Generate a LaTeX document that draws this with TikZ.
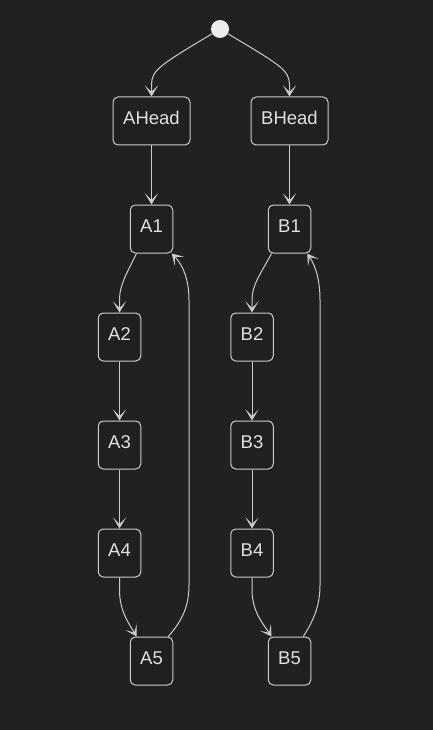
\documentclass[tikz,border=0pt]{standalone}
\usepackage{fontspec}
\setmainfont{Liberation Sans}
\usetikzlibrary{positioning,arrows.meta}
\definecolor{bg}{HTML}{212121}
\definecolor{boxfill}{HTML}{1F2020}
\definecolor{edge}{HTML}{CCCCCC}
\definecolor{txt}{HTML}{E0E0E0}
\definecolor{dot}{HTML}{ECECEC}

\begin{document}
\begin{tikzpicture}[x=1pt,y=-1pt,font=\fontsize{18.5}{20}\selectfont,
  state/.style={draw=edge,fill=boxfill,text=txt,rounded corners=5pt,line width=1pt,
    minimum width=42.5pt,minimum height=48pt,inner sep=0pt,text depth=5.5pt},
  arr/.style={edge,line width=1pt,-{Stealth[length=11pt,width=13pt,inset=6.5pt]}}]
  \fill[bg] (0,0) rectangle (433,730);
  \node[circle,fill=dot,inner sep=0pt,minimum size=18pt] (start) at (220,29) {};
  \node[state,minimum width=77pt] (ahead) at (151.5,121) {AHead};
  \node[state,minimum width=77pt] (bhead) at (289.5,121) {BHead};
  \node[state] (a1) at (151.5,229) {A1};
  \node[state] (a2) at (119.5,337) {A2};
  \node[state] (a3) at (119.5,445) {A3};
  \node[state] (a4) at (119.5,553) {A4};
  \node[state] (a5) at (151.5,661) {A5};
  \node[state] (b1) at (289.5,229) {B1};
  \node[state] (b2) at (252,337) {B2};
  \node[state] (b3) at (252,445) {B3};
  \node[state] (b4) at (252,553) {B4};
  \node[state] (b5) at (289.5,661) {B5};
  \draw[arr] (start) .. controls (160,65) and (151.5,70) .. (151.5,85) -- (ahead);
  \draw[arr] (start) .. controls (280,65) and (289.5,70) .. (289.5,85) -- (bhead);
  \draw[arr] (ahead) -- (a1);
  \draw[arr] (bhead) -- (b1);
  \draw[arr] ([xshift=-15pt]a1.south) .. controls (126,275) and (119.5,285) .. (119.5,300) -- (a2);
  \draw[arr] (a2) -- (a3);
  \draw[arr] (a3) -- (a4);
  \draw[arr] (a4) -- (119.5,590) .. controls (119.5,612) and (130,625) .. ([xshift=-15pt]a5.north);
  \draw[arr] ([xshift=-5pt]a5.north east) .. controls (183,620) and (189,605) .. (189,585)
    -- (189,300) .. controls (189,275) and (180,262) .. ([xshift=-1.5pt]a1.south east);
  \draw[arr] ([xshift=-18pt]b1.south) .. controls (260,275) and (252,285) .. (252,300) -- (b2);
  \draw[arr] (b2) -- (b3);
  \draw[arr] (b3) -- (b4);
  \draw[arr] (b4) -- (252,590) .. controls (252,612) and (264,625) .. ([xshift=-18pt]b5.north);
  \draw[arr] ([xshift=-8pt]b5.north east) .. controls (314,620) and (320,605) .. (320,585)
    -- (320,300) .. controls (320,275) and (313,262) .. ([xshift=-4pt]b1.south east);
\end{tikzpicture}
\end{document}
